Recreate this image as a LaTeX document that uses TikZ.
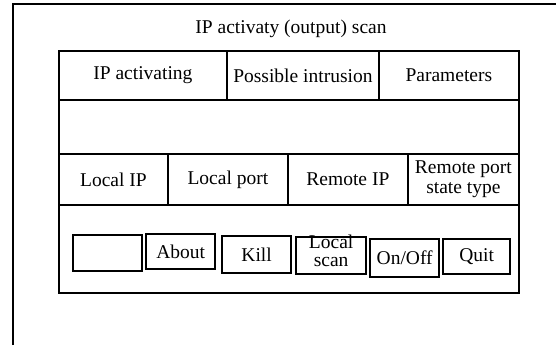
\documentclass[tikz,border=0pt]{standalone}
\usepackage{fontspec}
\setmainfont{Liberation Serif}
\begin{document}
\begin{tikzpicture}[x=1pt,y=-1pt,
  txt/.style={font=\fontsize{19.5}{19}\selectfont, inner sep=0pt, align=center},
  cell/.style={txt, draw, line width=1.8pt, anchor=north west},
  btn/.style={txt, draw, line width=2.3pt, anchor=north west}]
\useasboundingbox (0,0) rectangle (556,345);
% outer frame
\draw[line width=1.8pt] (13,345) -- (13,4) -- (556,4);
\node[txt] (title) at (291,29) {IP activaty (output) scan};
% row 1
\node[cell, minimum width=168pt, minimum height=49pt] (ipact) at (58,50) {IP activating};
\node[cell, minimum width=152pt, minimum height=49pt] (intr) at (226,50) {Possible intrusion};
\node[cell, minimum width=140pt, minimum height=49pt] (param) at (378,50) {Parameters};
% row 2
\node[cell, minimum width=460pt, minimum height=54pt] (blank) at (58,99) {};
% row 3
\node[cell, minimum width=109pt, minimum height=51pt] (lip) at (58,153) {Local IP};
\node[cell, minimum width=120pt, minimum height=51pt] (lport) at (167,153) {Local port};
\node[cell, minimum width=120pt, minimum height=51pt] (rip) at (287,153) {Remote IP};
\node[cell, minimum width=111pt, minimum height=51pt, font=\fontsize{19.5}{20}\selectfont] (rport) at (407,153) {Remote port\\state type};
% row 4
\node[cell, minimum width=460pt, minimum height=88pt] (bar) at (58,204) {};
% buttons
\node[btn, minimum width=69pt, minimum height=36pt] (b0) at (72,234) {};
\node[btn, minimum width=69pt, minimum height=35pt] (about) at (145,233) {About};
\node[btn, minimum width=69pt, minimum height=37pt] (kill) at (221,235) {Kill};
\node[btn, minimum width=70pt, minimum height=37pt] (lscan) at (295,236) {\raisebox{-6pt}{\smash{\begin{tabular}{@{}c@{}}Local\\[-1pt]scan\end{tabular}}}};
\node[btn, minimum width=69pt, minimum height=38pt] (onoff) at (369,238) {On/Off};
\node[btn, minimum width=67pt, minimum height=35pt] (quit) at (442,238) {Quit};
\end{tikzpicture}
\end{document}
